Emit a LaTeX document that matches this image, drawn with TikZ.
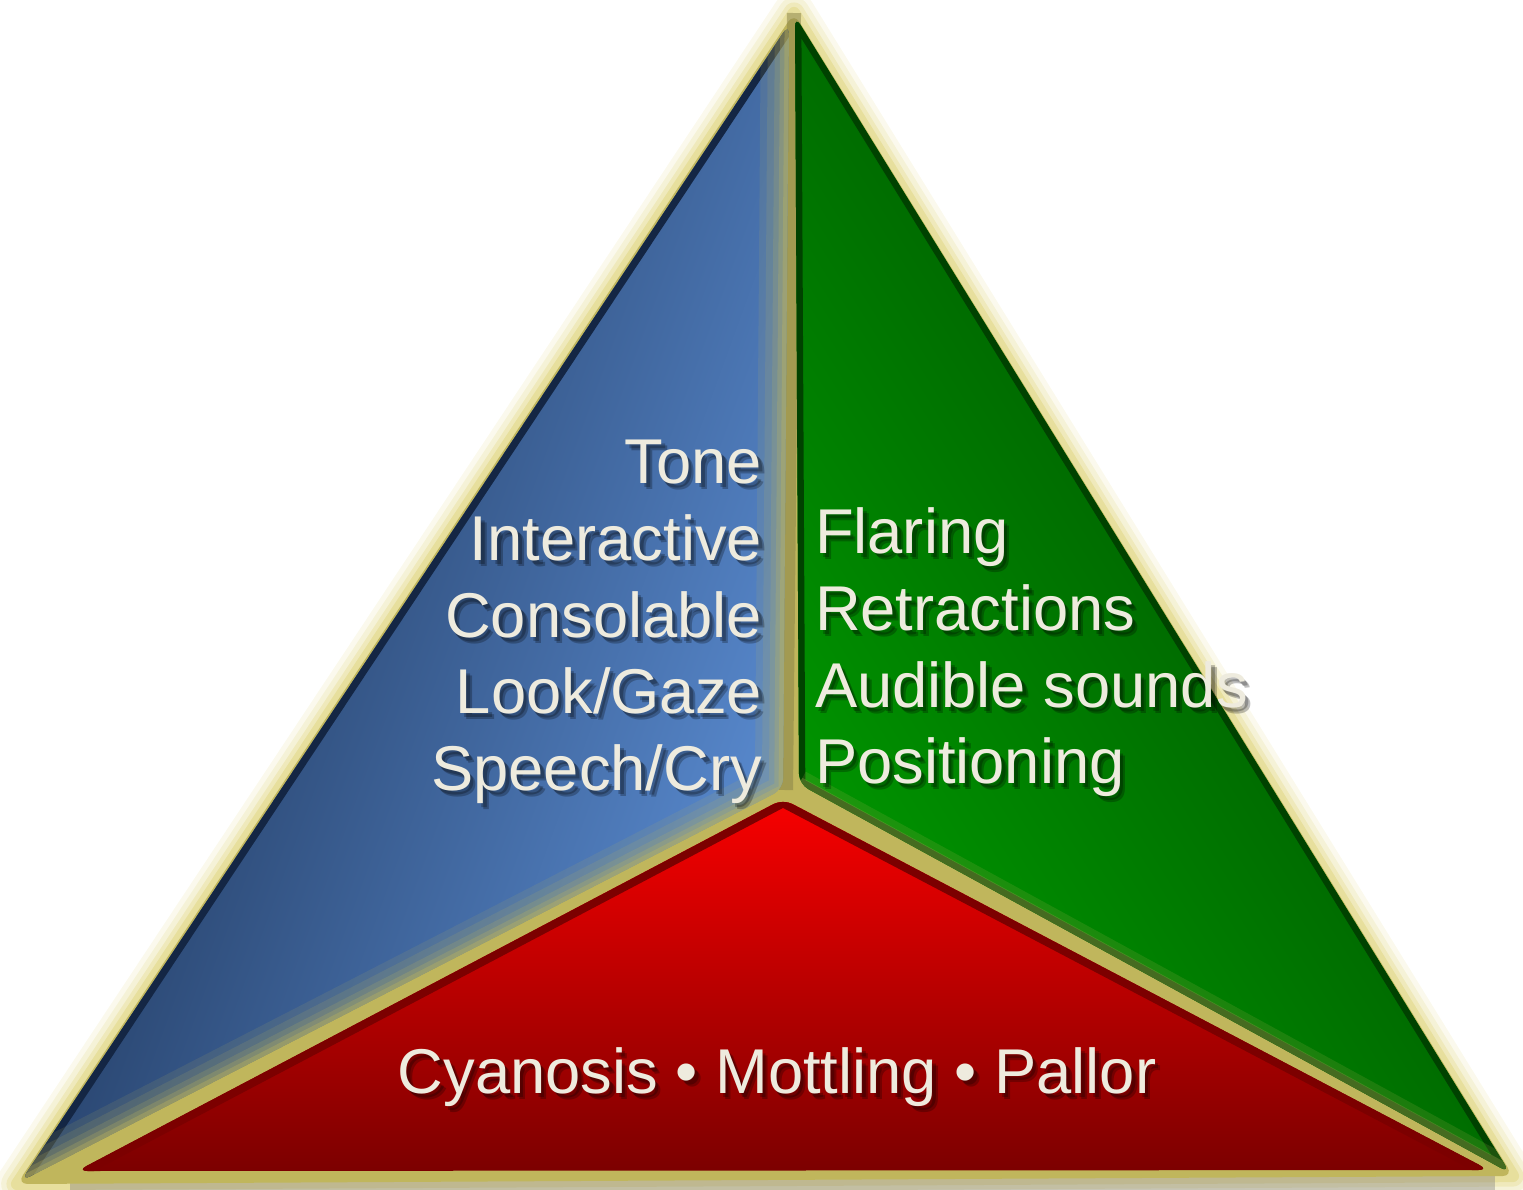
\documentclass[tikz,border=0pt]{standalone}
\usepackage{fontspec}
\setmainfont{Liberation Sans}
\definecolor{glowyel}{RGB}{226,216,136}
\definecolor{seamyel}{RGB}{192,182,92}
\definecolor{seamdark}{RGB}{134,128,72}
\definecolor{navy}{RGB}{20,38,68}
\definecolor{midblue}{RGB}{42,76,128}
\definecolor{skyblue}{RGB}{90,140,210}
\definecolor{darkgrn}{RGB}{0,66,0}
\definecolor{midgrn}{RGB}{0,100,0}
\definecolor{brightgrn}{RGB}{0,152,0}
\definecolor{brightred}{RGB}{248,0,0}
\definecolor{darkred}{RGB}{124,0,0}
\definecolor{cream}{RGB}{238,235,222}

\newcommand{\signtext}[4]{%
  \node[lblshadow, anchor=#2, xshift=0.035cm, yshift=-0.045cm] (#1s) at (#3) {#4};
  \node[lblshadow, anchor=#2, xshift=0.055cm, yshift=-0.065cm] (#1t) at (#3) {#4};
  \node[lbl, anchor=#2] (#1) at (#3) {#4};}

\begin{document}
\begin{tikzpicture}[x=0.01cm, y=-0.01cm, line join=round,
  lbl/.style={text=cream, font=\fontsize{18}{22}\selectfont, inner sep=0pt, outer sep=0pt},
  lblshadow/.style={lbl, text=black, opacity=0.25},
  glowline/.style={glowyel, line width=#1},
  seamglow/.style={seamyel, line width=#1}]

	\useasboundingbox (0,0) rectangle (1523,1190);

	% corners
	\coordinate (peak) at (794,13);
	\coordinate (cornerl) at (17,1184);
	\coordinate (cornerr) at (1513,1176);
	\coordinate (bluetop) at (789,24);
	\coordinate (bluemid) at (783,789);
	\coordinate (blueleft) at (21,1181);
	\coordinate (grntop) at (795,16);
	\coordinate (grnright) at (1510,1173);
	\coordinate (grnmid) at (799,784);
	\coordinate (redtop) at (783,799);
	\coordinate (redleft) at (77,1171);
	\coordinate (redright) at (1489,1170);

	% glow and shadow
	\foreach \w/\o in {12pt/0.15, 9pt/0.22, 6pt/0.35, 3.5pt/0.6}
		\draw[glowline=\w, opacity=\o] (peak) -- (cornerl) -- (cornerr) -- cycle;
	\foreach \w/\o in {12pt/0.1, 8pt/0.15, 4pt/0.2}
		\draw[gray, line width=\w, opacity=\o] (70,1183) -- (1495,1183);
	\fill[seamyel, rounded corners=3pt] (peak) -- (cornerl) -- (cornerr) -- cycle;
	\draw[seamdark, line width=4pt, opacity=0.5] (peak) -- (786,790);

	% blue
	\shade[top color=skyblue, middle color=midblue, bottom color=navy, shading angle=-110, rounded corners=3pt]
		(bluetop) -- (bluemid) -- (blueleft) -- cycle;
	\begin{scope}
		\clip[rounded corners=3pt] (bluetop) -- (bluemid) -- (blueleft) -- cycle;
		\draw[navy, line width=4pt] (bluetop) -- (blueleft);
		\foreach \w/\o in {16pt/0.12, 12pt/0.14, 8pt/0.18, 5pt/0.25, 2.5pt/0.35}
			\draw[seamglow=\w, opacity=\o] (bluetop) -- (bluemid) -- (blueleft);
	\end{scope}

	% green
	\shade[top color=darkgrn, middle color=midgrn, bottom color=brightgrn, shading angle=-58, rounded corners=3pt]
		(grntop) -- (grnright) -- (grnmid) -- cycle;
	\begin{scope}
		\clip[rounded corners=3pt] (grntop) -- (grnright) -- (grnmid) -- cycle;
		\draw[darkgrn, line width=3.6pt] (grnmid) -- (grntop) -- (grnright) -- (grnmid);
		\foreach \w/\o in {8pt/0.15, 4pt/0.25}
			\draw[seamglow=\w, opacity=\o] (grnmid) -- (grnright);
	\end{scope}

	% red
	\shade[top color=brightred, bottom color=darkred, rounded corners=3pt]
		(redtop) -- (redright) -- (redleft) -- cycle;
	\begin{scope}
		\clip[rounded corners=3pt] (redtop) -- (redright) -- (redleft) -- cycle;
		\draw[darkred, line width=4.5pt] (redleft) -- (redtop) -- (redright);
	\end{scope}

	% texts
	\signtext{tone}{base east}{762,483}{Tone}
	\signtext{interactive}{base east}{762,560}{Interactive}
	\signtext{consolable}{base east}{762,637}{Consolable}
	\signtext{look}{base east}{762,713}{Look/Gaze}
	\signtext{speech}{base east}{762,790}{Speech/Cry}
	\signtext{flaring}{base west}{815,553}{Flaring}
	\signtext{retractions}{base west}{815,630}{Retractions}
	\signtext{audible}{base west}{815,707}{Audible sounds}
	\signtext{positioning}{base west}{815,783}{Positioning}
	\signtext{colour}{base}{777,1093}{Cyanosis • Mottling • Pallor}
\end{tikzpicture}
\end{document}
